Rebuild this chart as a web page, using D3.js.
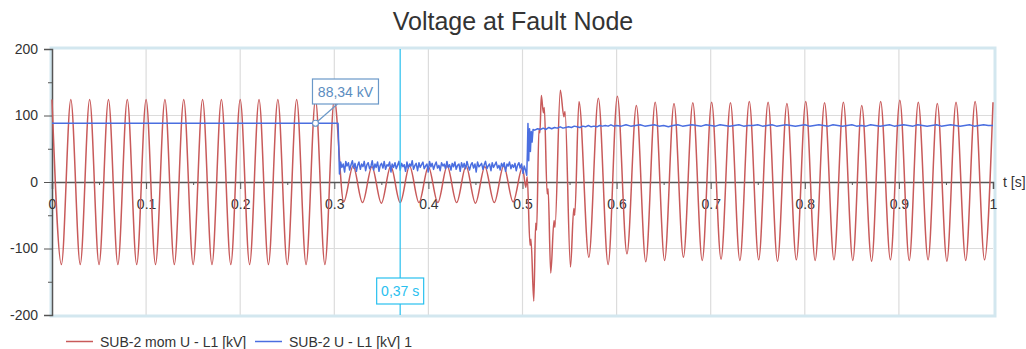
<!DOCTYPE html>
<html><head><meta charset="utf-8">
<script src="https://cdn.jsdelivr.net/npm/d3@7"></script>
<style>
body{margin:0;background:#fff}
svg{display:block;font-family:"Liberation Sans",Arial,sans-serif}
</style>
</head><body>
<svg id="chart" width="1026" height="349"></svg>
<script>
// Instantaneous phase voltage: successive peaks/troughs and slope kinks (time [s], value [kV])
const momT = [
  0,0.01,0.02,0.03,0.04,0.05,0.06,0.07,0.08,0.09,0.10,0.11,0.12,0.13,0.14,0.15,
  0.16,0.17,0.18,0.19,0.20,0.21,0.22,0.23,0.24,0.25,0.26,0.27,0.28,0.29,0.30,
  0.31,0.32,0.33,0.34,0.35,0.36,0.37,0.38,0.39,0.40,0.41,0.42,0.43,0.44,0.45,
  0.46,0.47,0.48,0.49,0.50,
  0.5035,0.5050,0.5080,0.5090,0.5120,0.5140,0.5150,0.5175,0.5185,0.520,0.5222,0.5232,
  0.5262,0.5272,0.530,0.5335,0.5345,0.5402,0.5440,0.5452,0.551,0.5545,0.5555,0.5600,
  0.5705,0.5806,
  0.591,0.6008,0.611,0.621,0.631,0.641,0.651,0.661,0.671,0.681,0.691,0.701,0.711,
  0.721,0.731,0.741,0.751,0.761,0.771,0.781,0.791,0.801,0.811,0.821,0.831,0.841,
  0.851,0.8605,0.871,0.8806,0.891,0.901,0.911,0.9206,0.931,0.9408,0.951,0.9607,
  0.971,0.981,0.991,1.0
];
const momV = [
  124,-124,124,-124,124,-124,124,-124,124,-124,124,-124,124,-124,124,-124,
  124,-124,124,-124,124,-124,124,-124,124,-124,124,-124,124,-124,124,
  -30,24,-31,23,-32,24,-31,24,-31,23,-31,24,-31,24,-32,
  23,-31,24,-30,22,
  -8,8,-95,-86,-179,-62,-72,80,74,130,104,112,
  -18,-10,-137,-58,-68,138,98,106,-128,-40,-50,121,
  -113,126,
  -124,129,-108,115,-120,120,-118,118,-113,119,-118,120,-116,
  119,-118,121,-117,120,-119,118,-117,121,-118,119,-117,120,
  -118,115,-119,121,-117,123,-118,120,-117,118,-119,120,
  -118,121,-117,120
];

// RMS phase voltage (time [s], value [kV])
const rmsT = [
  0,0.2800,0.3040,0.3055,0.3068,0.3080,0.3095,0.3110,0.3122,0.3135,0.3150,0.3163,
  0.3178,0.3192,0.3205,0.3220,0.3235,0.3248,0.3262,0.3277,0.3290,0.3305,0.3318,
  0.3333,0.3347,0.3360,0.3375,0.3390,0.3403,0.3418,0.3432,0.3445,0.3460,0.3475,
  0.3488,0.3502,0.3517,0.3530,0.3545,0.3560,0.3573,0.3588,0.3602,0.3615,0.3630,
  0.3645,0.3658,0.3672,0.3687,0.3700,0.3715,0.3730,0.3743,0.3757,0.3772,0.3785,
  0.3800,0.3815,0.3828,0.3842,0.3857,0.3870,0.3885,0.3900,0.3913,0.3927,0.3942,
  0.3955,0.3970,0.3985,0.3998,0.4012,0.4027,0.4040,0.4055,0.4070,0.4083,0.4097,
  0.4112,0.4125,0.4140,0.4155,0.4168,0.4182,0.4197,0.4210,0.4225,0.4240,0.4253,
  0.4267,0.4282,0.4295,0.4310,0.4325,0.4338,0.4352,0.4367,0.4380,0.4395,0.4410,
  0.4423,0.4437,0.4452,0.4465,0.4480,0.4495,0.4508,0.4522,0.4537,0.4550,0.4565,
  0.4580,0.4593,0.4607,0.4622,0.4635,0.4650,0.4665,0.4678,0.4692,0.4707,0.4720,
  0.4735,0.4750,0.4763,0.4777,0.4792,0.4805,0.4820,0.4835,0.4848,0.4862,0.4877,
  0.4890,0.4905,0.4920,0.4933,0.4947,0.4962,0.4975,0.4990,0.5005,0.5018,0.5032,
  0.5045,0.5052,0.5058,0.5066,0.5075,0.5084,0.5093,0.5102,
  0.5112,0.5130,0.5160,0.5190,0.5220,0.5250,0.5280,0.5310,0.5340,0.5370,0.5400,
  0.5430,0.5460,0.5490,0.5520,0.5550,0.5580,0.5610,0.5640,0.5670,0.5700,0.5730,
  0.5760,0.5790,0.5820,0.5850,0.5880,0.5910,0.5940,0.5970,0.6000,0.6050,0.6100,
  0.6150,0.6200,0.6250,0.6300,0.6350,0.6400,0.6450,0.6500,0.6550,0.6600,0.6650,
  0.6700,0.6750,0.6800,0.6850,0.6900,0.6950,0.7000,0.7050,0.7100,0.7150,0.7200,
  0.7250,0.7300,0.7350,0.7400,0.7450,0.7500,0.7550,0.7600,0.7650,0.7700,0.7750,
  0.7800,0.7850,0.7900,0.7950,0.8000,0.8050,0.8100,0.8150,0.8200,0.8250,0.8300,
  0.8350,0.8400,0.8450,0.8500,0.8550,0.8600,0.8650,0.8700,0.8750,0.8800,0.8850,
  0.8900,0.8950,0.9000,0.9050,0.9100,0.9150,0.9200,0.9250,0.9300,0.9350,0.9400,
  0.9450,0.9500,0.9550,0.9600,0.9650,0.9700,0.9750,0.9800,0.9850,0.9900,0.9950,
  1.0000
];
const rmsV = [
  88.34,88.34,88.34,12,30,22,27,15,31,24,29,18,
  26,32,21,28,16,25,30,19,27,23,31,
  17,26,29,20,24,32,18,27,22,30,16,
  25,28,21,31,19,26,24,30,15,27,22,
  29,20,25,31,18,28,23,26,16,30,21,
  27,24,32,19,25,28,17,29,22,26,30,
  20,24,27,15,31,23,28,19,26,30,21,
  25,17,29,24,27,20,31,22,26,18,28,
  23,30,19,25,27,16,29,22,28,20,31,
  24,18,26,29,21,27,15,30,23,25,28,
  19,26,31,20,24,27,17,29,22,26,30,
  21,25,18,28,23,29,16,27,24,30,20,
  26,22,28,17,25,29,21,27,13,24,18,
  10,45,88,32,80,46,76,60,
  79,78,80,79,81,79,82,80,82,81,83,
  81,82,83,82,84,83,82,84,83,85,83,
  84,83,85,84,85,84,86,84,85,84,86,
  84,85,86,84,85,86,84,85,83,85,86,
  84,85,86,85,84,86,85,84,86,85,84,
  85,86,84,85,85,86,84,85,86,84,85,
  86,85,84,85,86,84,85,86,85,84,86,
  85,84,85,86,84,85,84,86,85,84,85,
  86,84,85,86,85,84,86,85,84,85,86,
  84,85,86,85,84,85,86,84,85,86,85,
  85
];

// Axis ticks
const xMajor = [0,0.1,0.2,0.3,0.4,0.5,0.6,0.7,0.8,0.9,1];
const xMinor = [0.05,0.15,0.25,0.35,0.45,0.55,0.65,0.75,0.85,0.95];
const yMajor = [-200,-100,0,100,200];
const yMinor = [-150,-50,50,150];

const seriesNames = ["SUB-2 mom U - L1 [kV]", "SUB-2 U - L1 [kV] 1"];
const seriesColors = ["#c85a5a", "#4a6ee0"];
const markerT = 0.28, markerV = 88.34;
const cursorT = 0.37;

const svg = d3.select("#chart");
const x = d3.scaleLinear().domain([0, 1]).range([52, 993]);
const y = d3.scaleLinear().domain([-200, 200]).range([315, 49]);
const fmtComma = v => String(v).replace(".", ",");

// title
svg.append("text").attr("x", 513).attr("y", 30).attr("text-anchor", "middle")
  .attr("font-size", 25).attr("fill", "#333").text("Voltage at Fault Node");

// grid
const grid = svg.append("g").attr("stroke", "#dcdcdc").attr("stroke-width", 1.2);
grid.selectAll("line.v").data(xMajor.slice(1, -1)).join("line")
  .attr("x1", d => x(d)).attr("x2", d => x(d)).attr("y1", y(200)).attr("y2", y(-200));
grid.selectAll("line.h").data([-100, 100]).join("line")
  .attr("x1", x(0)).attr("x2", x(1)).attr("y1", d => y(d)).attr("y2", d => y(d));

// plot frame
svg.append("rect").attr("x", x(0) - 1).attr("y", y(200) - 1)
  .attr("width", x(1) - x(0) + 3).attr("height", y(-200) - y(200) + 2)
  .attr("fill", "none").attr("stroke", "#d3e7ef").attr("stroke-width", 3);

// y axis
const yAxis = svg.append("g").attr("transform", `translate(${x(0)},0)`)
  .call(d3.axisLeft(y).tickValues(yMajor).tickSize(8).tickPadding(6).tickFormat(d => String(d)));
svg.append("g").attr("transform", `translate(${x(0)},0)`)
  .call(d3.axisLeft(y).tickValues(yMinor).tickSize(4).tickFormat(""))
  .call(g => g.select(".domain").remove());
yAxis.select(".domain").attr("stroke", "#555").attr("stroke-width", 1.5);
yAxis.selectAll("text").attr("font-size", 14).attr("fill", "#333")
  .attr("font-family", "Liberation Sans, Arial, sans-serif");
svg.selectAll(".tick line").attr("stroke", "#555");

// curves
const momLine = d3.line().x(d => x(d[0])).y(d => y(d[1])).curve(d3.curveMonotoneX);
const rmsLine = d3.line().x(d => x(d[0])).y(d => y(d[1]));
const plot = svg.append("g");
plot.append("path").datum(d3.zip(momT, momV)).attr("d", momLine)
  .attr("fill", "none").attr("stroke", seriesColors[0]).attr("stroke-width", 1.5)
  .attr("stroke-linejoin", "round");

// x axis (through zero)
const xAxis = svg.append("g").attr("transform", `translate(0,${y(0)})`)
  .call(d3.axisBottom(x).tickValues(xMajor).tickSize(7).tickPadding(10)
    .tickFormat(d => d3.format("~g")(d)));
svg.append("g").attr("transform", `translate(0,${y(0)})`)
  .call(d3.axisBottom(x).tickValues(xMinor).tickSize(3).tickFormat(""))
  .call(g => g.select(".domain").remove())
  .selectAll("line").attr("stroke", "#555");
xAxis.select(".domain").attr("stroke", "#555").attr("stroke-width", 1.5);
xAxis.selectAll(".tick line").attr("stroke", "#555");
xAxis.selectAll("text").attr("font-size", 14).attr("fill", "#333")
  .attr("font-family", "Liberation Sans, Arial, sans-serif");
svg.append("text").attr("x", 1003).attr("y", y(0) + 5).attr("font-size", 14)
  .attr("fill", "#333").text("t [s]");

plot.append("path").datum(d3.zip(rmsT, rmsV)).attr("d", rmsLine)
  .attr("fill", "none").attr("stroke", seriesColors[1]).attr("stroke-width", 1.5)
  .attr("stroke-linejoin", "round");
plot.raise();
xAxis.selectAll("text").raise();

// time cursor
svg.append("line").attr("x1", x(cursorT)).attr("x2", x(cursorT))
  .attr("y1", y(200)).attr("y2", y(-200)).attr("stroke", "#29c0ef").attr("stroke-width", 1.2);
const cur = svg.append("g").attr("transform", `translate(${x(cursorT)},291)`);
cur.append("rect").attr("x", -23.5).attr("y", -13).attr("width", 47).attr("height", 26)
  .attr("fill", "#fff").attr("stroke", "#29c0ef").attr("stroke-width", 1.2);
cur.append("text").attr("text-anchor", "middle").attr("y", 5).attr("font-size", 14)
  .attr("fill", "#29c0ef").text(fmtComma(cursorT) + " s");

// value marker on RMS curve
const mx = x(markerT), my = y(markerV);
svg.append("line").attr("x1", mx).attr("y1", my).attr("x2", mx + 22).attr("y2", 104)
  .attr("stroke", "#6a98c8").attr("stroke-width", 1.2);
const tip = svg.append("g").attr("transform", `translate(${mx - 3},${79})`);
tip.append("rect").attr("width", 66).attr("height", 25).attr("fill", "#fff")
  .attr("stroke", "#6a98c8").attr("stroke-width", 1.2);
tip.append("text").attr("x", 33).attr("y", 17.5).attr("text-anchor", "middle")
  .attr("font-size", 14).attr("fill", "#5a8cc0").text(fmtComma(markerV) + " kV");
svg.append("circle").attr("cx", mx).attr("cy", my).attr("r", 3)
  .attr("fill", "#fff").attr("stroke", "#6a98c8").attr("stroke-width", 1.2);

// legend
const leg = svg.append("g").attr("font-size", 14).attr("fill", "#333");
const legX = [66, 255];
seriesNames.forEach((n, i) => {
  leg.append("line").attr("x1", legX[i]).attr("x2", legX[i] + 27).attr("y1", 341.5).attr("y2", 341.5)
    .attr("stroke", seriesColors[i]).attr("stroke-width", 1.5);
  leg.append("text").attr("x", legX[i] + 34).attr("y", 346.5).text(n);
});
</script>
</body></html>
